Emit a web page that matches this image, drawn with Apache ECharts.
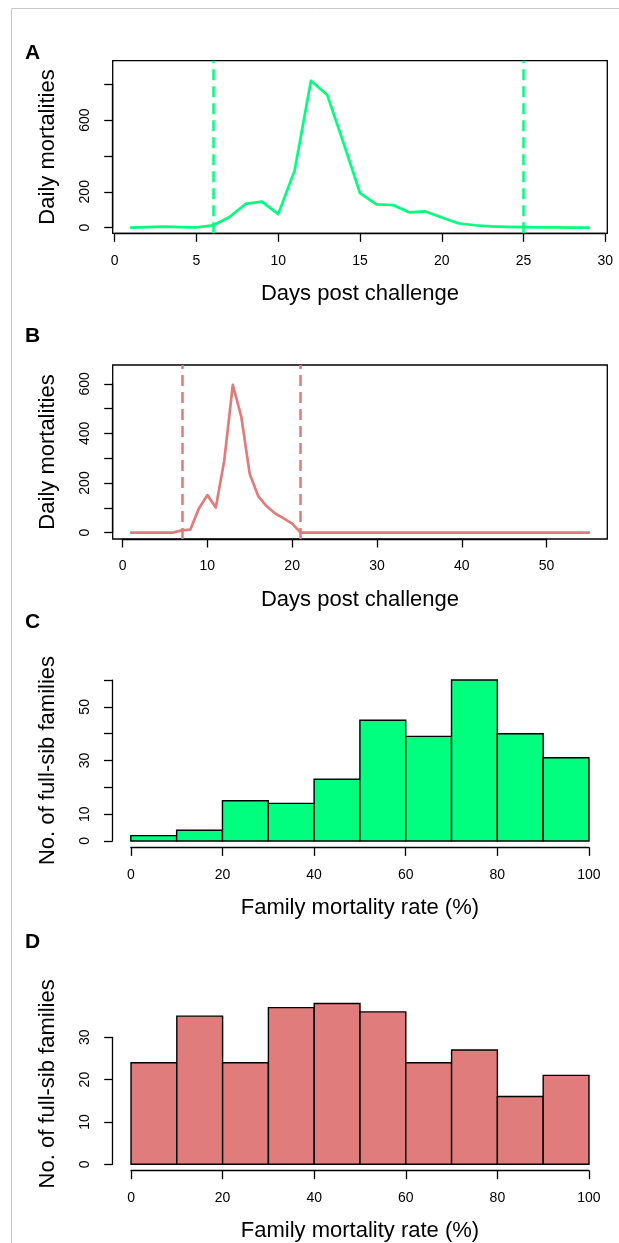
<!DOCTYPE html>
<html><head><meta charset="utf-8">
<script src="https://cdn.jsdelivr.net/npm/echarts@6/dist/echarts.min.js"></script>
<style>html,body{margin:0;padding:0;background:#fff}#c{width:619px;height:1243px}</style>
</head><body><div id="c"></div>
<script>
// ---------------- data ----------------
const daysA = [1,2,3,4,5,6,7,8,9,10,11,12,13,14,15,16,17,18,19,20,21,22,23,24,25,26,27,28,29];
const mortalityA = [0,2,5,2,1,12,58,132,145,75,318,820,740,470,192,130,126,85,90,56,24,13,7,4,2,1,1,0,0];
const cutoffsA = [6, 25];

const daysB = [1,2,3,4,5,6,7,8,9,10,11,12,13,14,15,16,17,18,19,20,21,22,23,24,25,26,27,28,29,30,
  31,32,33,34,35,36,37,38,39,40,41,42,43,44,45,46,47,48,49,50,51,52,53,54,55];
const mortalityB = [0,0,0,0,0,0,9,12,97,151,101,292,596,468,236,147,106,77,57,36,0,0,0,0,0,0,0,0,0,0,
  0,0,0,0,0,0,0,0,0,0,0,0,0,0,0,0,0,0,0,0,0,0,0,0,0];
const cutoffsB = [7, 21];

const binEdges = [0,10,20,30,40,50,60,70,80,90,100];
const familiesC = [2,4,15,14,23,45,39,60,40,31];
const familiesD = [24,35,24,37,38,36,24,27,16,21];

// tick labels
const xTicksA = [0,5,10,15,20,25,30];
const yTicksA = [0,200,400,600,800];
const yLabelsA = [0,200,600];
const xTicksB = [0,10,20,30,40,50];
const yTicksB = [0,100,200,300,400,500,600];
const yLabelsB = [0,200,400,600];
const xTicksHist = [0,20,40,60,80,100];
const yTicksC = [0,10,20,30,40,50,60];
const yLabelsC = [0,10,30,50];
const yTicksD = [0,10,20,30];
const yLabelsD = [0,10,20,30];

const xTitleDays = 'Days post challenge';
const yTitleDaily = 'Daily mortalities';
const xTitleRate = 'Family mortality rate (%)';
const yTitleFam = 'No. of full-sib families';

// ---------------- style / layout ----------------
const FONT = '"Liberation Sans", Arial, Helvetica, sans-serif';
const GREEN = '#00FF7F';
const RED = '#E07C7C';
const rExt = (lo, hi) => { const d = (hi - lo) * 0.04; return [lo - d, hi + d]; };
const maxOf = a => Math.max.apply(null, a);
const minOf = a => Math.min.apply(null, a);

const panels = [
  { letter:'A', lx:32.5, ly:53.7, box:true, reg:{L:112.7,R:607.3,T:60.7,B:233.3},
    xr: rExt(minOf(daysA), maxOf(daysA)), yr:[-32, 932],
    xt: xTicksA, yt: yTicksA, yl: yLabelsA, xName: xTitleDays, yName: yTitleDaily },
  { letter:'B', lx:32.5, ly:336.5, box:true, reg:{L:112.7,R:607.3,T:365,B:539},
    xr: rExt(minOf(daysB), maxOf(daysB)), yr: rExt(0, 650),
    xt: xTicksB, yt: yTicksB, yl: yLabelsB, xName: xTitleDays, yName: yTitleDaily },
  { letter:'C', lx:32.5, ly:622, box:false, reg:{L:112.5,R:607.3,T:673.6,B:847.4},
    xr: rExt(binEdges[0], binEdges[binEdges.length-1]), yr: rExt(0, maxOf(familiesC)),
    xt: xTicksHist, yt: yTicksC, yl: yLabelsC, xName: xTitleRate, yName: yTitleFam },
  { letter:'D', lx:32.5, ly:942, box:false, reg:{L:112.7,R:607.3,T:997,B:1170.7},
    xr: rExt(binEdges[0], binEdges[binEdges.length-1]), yr: rExt(0, maxOf(familiesD)),
    xt: xTicksHist, yt: yTicksD, yl: yLabelsD, xName: xTitleRate, yName: yTitleFam }
];

const axisLineStyle = { color:'#000', width:1.3 };
const grids = [], xAxes = [], yAxes = [], graphics = [];

panels.forEach((p, i) => {
  const r = p.reg;
  const g0 = grids.length;
  // data grid = R plot region
  grids.push({ left:r.L, top:r.T, width:r.R-r.L, height:r.B-r.T, show:p.box,
    borderColor:'#000', borderWidth:1.3, backgroundColor:'transparent',
    containLabel:false, outerBoundsMode:'none' });
  xAxes.push({ gridIndex:g0, type:'value', min:p.xr[0], max:p.xr[1],
    axisLine:{show:false}, axisTick:{show:false}, axisLabel:{show:false}, splitLine:{show:false},
    name:p.xName, nameLocation:'middle', nameGap:49.5,
    nameTextStyle:{fontSize:22, fontFamily:FONT, color:'#000'} });
  yAxes.push({ gridIndex:g0, type:'value', min:p.yr[0], max:p.yr[1],
    axisLine:{show:false}, axisTick:{show:false}, axisLabel:{show:false}, splitLine:{show:false},
    name:p.yName, nameLocation:'middle', nameRotate:90, nameGap:54,
    nameTextStyle:{fontSize:22, fontFamily:FONT, color:'#000'} });

  const px = v => r.L + (v - p.xr[0]) / (p.xr[1] - p.xr[0]) * (r.R - r.L);
  const py = v => r.B - (v - p.yr[0]) / (p.yr[1] - p.yr[0]) * (r.B - r.T);
  const x0 = p.xt[0], x1 = p.xt[p.xt.length-1], xs = p.xt[1]-p.xt[0];
  const y0 = p.yt[0], y1 = p.yt[p.yt.length-1], ys = p.yt[1]-p.yt[0];

  // x axis grid (tick span only)
  const g1 = grids.length;
  grids.push({ left:px(x0), top:r.T, width:px(x1)-px(x0), height:r.B-r.T, show:false,
    containLabel:false, outerBoundsMode:'none' });
  xAxes.push({ gridIndex:g1, type:'value', min:x0, max:x1, interval:xs, position:'bottom',
    axisLine:{show:true, lineStyle:axisLineStyle},
    axisTick:{show:true, length:8.5, lineStyle:axisLineStyle},
    axisLabel:{margin:20.5, fontSize:14, fontFamily:FONT, color:'#000'},
    splitLine:{show:false} });
  yAxes.push({ gridIndex:g1, type:'value', show:false, min:0, max:1 });

  // y axis grid (tick span only)
  const g2 = grids.length;
  const labels = p.yl;
  grids.push({ left:r.L, top:py(y1), width:r.R-r.L, height:py(y0)-py(y1), show:false,
    containLabel:false, outerBoundsMode:'none' });
  xAxes.push({ gridIndex:g2, type:'value', show:false, min:0, max:1 });
  yAxes.push({ gridIndex:g2, type:'value', min:y0, max:y1, interval:ys, position:'left',
    axisLine:{show:true, lineStyle:axisLineStyle},
    axisTick:{show:true, length:8.5, lineStyle:axisLineStyle},
    axisLabel:{rotate:90, margin:20.5, fontSize:14, fontFamily:FONT, color:'#000',
      formatter: v => labels.indexOf(v) >= 0 ? String(v) : ''},
    splitLine:{show:false} });

  graphics.push({ type:'text', x:p.lx, y:p.ly, z:100,
    style:{ text:p.letter, font:'bold 21px ' + FONT, fill:'#000',
      align:'center', verticalAlign:'middle', textAlign:'center', textVerticalAlign:'middle' } });
});

// figure frame lines
graphics.push({ type:'line', z:1, shape:{x1:11.5, y1:8.5, x2:11.5, y2:1243}, style:{stroke:'#c8c8c8', lineWidth:1} });
graphics.push({ type:'line', z:1, shape:{x1:11.5, y1:8.5, x2:619, y2:8.5}, style:{stroke:'#c8c8c8', lineWidth:1} });

function lineSeries(idx, days, vals, cuts, color) {
  return { type:'line', xAxisIndex:idx, yAxisIndex:idx, data: days.map((d,i)=>[d, vals[i]]),
    symbol:'none', showSymbol:false, silent:true, clip:false,
    lineStyle:{ color:color, width:2.7, join:'round', cap:'round' }, itemStyle:{color:color},
    markLine:{ silent:true, symbol:'none', label:{show:false}, animation:false,
      lineStyle:{ color:color, width:2.5, type:[11,6] },
      data: cuts.map(c => ({ xAxis:c })) } };
}
function histSeries(idx, counts, color) {
  return { type:'custom', xAxisIndex:idx, yAxisIndex:idx, silent:true,
    data: counts.map((c,i)=>[binEdges[i], binEdges[i+1], c]),
    encode:{ x:[0,1], y:2 },
    renderItem: (params, api) => {
      const p0 = api.coord([api.value(0), 0]);
      const p1 = api.coord([api.value(1), api.value(2)]);
      return { type:'rect', shape:{ x:p0[0], y:p1[1], width:p1[0]-p0[0], height:p0[1]-p1[1] },
        style:{ fill:color, stroke:'#000', lineWidth:1.4 } };
    } };
}

const chart = echarts.init(document.getElementById('c'), null, { renderer:'canvas' });
chart.setOption({
  animation:false,
  backgroundColor:'#fff',
  grid: grids, xAxis: xAxes, yAxis: yAxes,
  series: [
    lineSeries(0, daysA, mortalityA, cutoffsA, GREEN),
    lineSeries(3, daysB, mortalityB, cutoffsB, RED),
    histSeries(6, familiesC, GREEN),
    histSeries(9, familiesD, RED)
  ],
  graphic: graphics
});
</script></body></html>
